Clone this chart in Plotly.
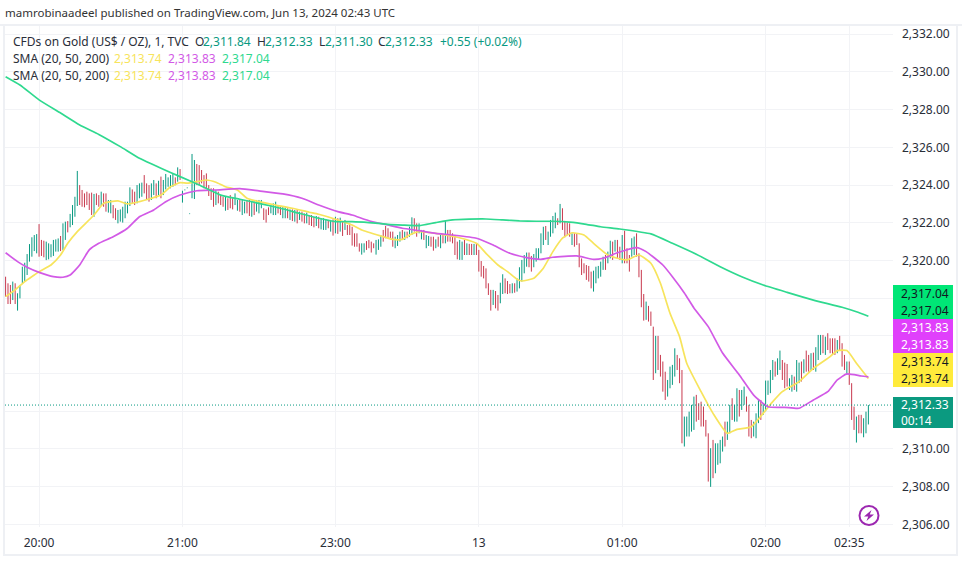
import plotly.graph_objects as go

highs = [
2319.14,2318.79,2318.7,2318.88,2318.79,2318.26,2318.7,2319.67,2319.88,2320.34,
2320.87,2321.23,2321.35,2321.4,2321.93,2321.09,2321.05,2321.0,2320.91,2320.86,
2321.09,2321.12,2321.17,2321.3,2321.97,2322.06,2322.09,2322.47,2322.94,2323.38,
2324.75,2324.0,2323.74,2323.56,2323.65,2323.56,2323.6,2323.53,2323.56,2323.47,
2323.65,2323.56,2323.56,2323.21,2323.21,2322.94,2322.77,2322.68,2322.71,2322.85,
2323.12,2323.12,2323.88,2323.77,2323.65,2324.0,2324.09,2324.13,2324.53,2324.09,
2324.0,2324.09,2324.27,2324.09,2324.23,2324.45,2324.27,2324.59,2324.41,2324.53,
2324.62,2324.41,2324.94,2324.85,2323.7,2323.77,2323.88,2322.5,2325.65,2325.33,
2325.12,2325.06,2324.8,2324.53,2324.62,2324.0,2323.83,2323.83,2323.73,2323.65,
2323.47,2323.38,2323.38,2323.3,2323.47,2323.3,2323.56,2323.21,2323.21,2323.21,
2323.12,2323.21,2323.21,2323.12,2323.12,2323.21,2323.21,2323.21,2322.77,2322.71,
2322.82,2322.94,2323.03,2323.12,2322.94,2322.85,2322.85,2322.82,2322.77,2322.71,
2322.71,2322.68,2322.71,2322.59,2322.59,2322.5,2322.54,2322.41,2322.41,2322.32,
2322.36,2322.32,2322.24,2322.24,2322.18,2322.15,2322.15,2322.18,2322.32,2322.24,
2322.27,2322.06,2322.15,2321.88,2321.97,2321.79,2321.44,2321.44,2320.91,2320.91,
2320.91,2321.03,2321.09,2321.0,2320.91,2321.09,2321.12,2321.35,2321.62,2321.83,
2321.71,2321.53,2321.53,2321.26,2321.35,2321.53,2321.62,2321.53,2321.53,2321.79,
2322.29,2322.24,2321.97,2321.97,2321.62,2321.62,2321.35,2321.3,2321.26,2321.26,
2321.12,2321.26,2321.35,2321.35,2322.1,2321.62,2321.62,2321.44,2321.35,2321.0,
2321.09,2321.0,2321.09,2320.91,2320.88,2320.88,2320.88,2320.88,2320.56,2319.97,
2319.71,2319.58,2318.79,2318.44,2318.44,2318.38,2318.17,2318.82,2319.27,2319.05,
2318.91,2318.75,2318.79,2318.79,2319.05,2319.64,2320.03,2320.29,2320.42,2320.42,
2320.24,2320.34,2320.65,2320.65,2321.44,2321.79,2321.83,2321.53,2322.15,2322.36,
2322.54,2322.24,2323.0,2322.77,2322.1,2322.01,2321.97,2321.44,2321.44,2321.44,
2320.91,2320.11,2319.85,2319.76,2319.71,2319.41,2319.46,2319.67,2319.71,2319.94,
2320.2,2320.29,2320.47,2321.05,2321.0,2321.09,2321.09,2320.73,2321.35,2321.58,
2320.65,2320.29,2321.18,2321.27,2321.44,2320.38,2319.5,2318.22,2317.82,2317.59,
2317.29,2316.49,2316.0,2316.0,2314.99,2314.64,2314.1,2313.66,2314.37,2314.46,
2315.34,2314.99,2314.81,2314.19,2311.72,2311.72,2311.98,2312.34,2312.78,2312.87,
2312.43,2312.51,2312.25,2311.54,2310.83,2310.04,2310.48,2310.3,2310.3,2310.48,
2310.66,2311.45,2311.45,2312.34,2312.69,2312.34,2313.22,2313.13,2313.13,2313.31,
2312.78,2312.34,2311.54,2311.45,2311.89,2312.6,2312.6,2312.43,2313.63,2313.63,
2314.19,2314.72,2314.64,2314.81,2315.22,2314.72,2314.58,2314.51,2313.75,2313.93,
2313.84,2314.72,2314.58,2314.64,2314.76,2315.22,2314.99,2315.08,2315.11,2315.4,
2316.05,2316.05,2316.05,2315.96,2316.14,2315.87,2315.87,2315.87,2315.78,2316.0,
2315.61,2314.99,2314.64,2314.64,2313.49,2312.25,2311.72,2311.81,2311.81,2311.63,2311.98,2312.33,
]
lows = [
2318.08,2317.69,2317.69,2317.9,2317.69,2317.34,2317.99,2318.79,2318.88,2319.23,
2319.94,2320.2,2320.5,2320.38,2320.2,2320.24,2320.17,2320.02,2320.06,2320.17,
2320.24,2320.47,2320.47,2320.5,2320.56,2321.09,2321.49,2321.76,2321.88,2322.32,
2322.89,2322.94,2322.85,2322.82,2322.94,2322.68,2322.41,2322.32,2322.94,2322.85,
2322.89,2322.85,2322.59,2322.54,2322.5,2322.24,2322.15,2321.97,2322.06,2322.01,
2322.24,2322.5,2322.89,2323.03,2322.94,2323.03,2323.3,2323.38,2323.56,2323.21,
2323.12,2323.21,2323.47,2323.3,2323.47,2323.3,2323.47,2323.77,2323.91,2323.83,
2323.91,2323.99,2324.18,2324.27,2323.07,2323.72,2323.83,2322.46,2323.3,2323.26,
2324.0,2324.0,2324.09,2323.83,2323.83,2323.42,2323.21,2322.85,2322.94,2323.03,
2322.94,2322.85,2322.64,2322.68,2322.77,2322.71,2322.94,2322.64,2322.59,2322.41,
2322.5,2322.5,2322.36,2322.32,2322.41,2322.59,2322.5,2322.77,2322.15,2322.01,
2322.41,2322.5,2322.41,2322.41,2322.5,2322.41,2322.24,2322.24,2322.24,2322.15,
2322.09,2322.06,2321.97,2322.15,2322.06,2321.97,2321.97,2321.88,2321.83,2321.76,
2321.83,2321.71,2321.65,2321.62,2321.62,2321.71,2321.53,2321.32,2321.44,2321.41,
2321.53,2321.3,2321.62,2321.35,2321.35,2320.79,2320.73,2320.73,2320.47,2320.31,
2320.42,2320.56,2320.65,2320.42,2320.65,2320.31,2320.56,2320.73,2321.0,2321.18,
2321.18,2321.12,2320.73,2320.65,2320.77,2321.0,2321.09,2321.09,2321.18,2321.26,
2321.35,2321.53,2321.26,2321.44,2321.12,2321.09,2320.65,2320.77,2320.73,2320.52,
2320.65,2320.73,2320.65,2320.91,2320.91,2321.0,2321.0,2320.91,2320.29,2320.06,
2320.03,2320.03,2320.29,2320.29,2320.29,2320.29,2320.29,2320.29,2319.41,2319.14,
2319.05,2318.52,2318.17,2317.34,2317.64,2317.46,2317.34,2317.73,2318.22,2318.26,
2318.22,2318.26,2318.26,2318.29,2318.35,2318.52,2318.88,2319.32,2319.67,2319.64,
2319.41,2319.64,2319.94,2320.03,2320.38,2320.82,2321.09,2320.82,2321.26,2321.44,
2321.71,2321.88,2321.97,2321.62,2321.23,2321.35,2321.26,2320.82,2320.73,2320.82,
2319.64,2319.23,2319.32,2318.97,2318.88,2318.52,2318.35,2318.79,2319.05,2319.14,
2319.5,2319.5,2319.85,2320.11,2320.03,2320.47,2320.11,2320.03,2319.85,2319.85,
2319.85,2319.41,2320.2,2320.29,2320.2,2319.11,2317.52,2316.81,2316.85,2316.76,
2316.53,2313.66,2314.02,2314.19,2313.84,2313.04,2312.6,2312.78,2313.22,2313.4,
2313.84,2314.19,2313.49,2310.3,2310.13,2310.66,2310.66,2310.92,2311.01,2311.45,
2311.54,2311.19,2311.19,2310.66,2308.27,2307.99,2308.45,2308.71,2309.16,2309.24,
2309.86,2310.13,2310.48,2310.83,2311.54,2311.45,2311.45,2311.72,2312.07,2312.34,
2311.98,2310.66,2310.57,2310.66,2310.57,2311.37,2311.54,2311.81,2312.0,2312.87,
2312.96,2313.66,2313.84,2313.93,2314.19,2313.66,2313.22,2313.31,2313.13,2313.04,
2313.13,2313.04,2313.49,2313.58,2314.02,2314.1,2314.1,2314.19,2314.19,2314.1,
2314.72,2314.99,2315.08,2314.99,2315.25,2315.08,2314.99,2314.99,2315.08,2315.25,
2314.37,2314.19,2313.93,2313.4,2311.54,2311.01,2310.34,2310.83,2310.83,2310.62,2310.83,2311.3,
]
bar_directions = (
"rrrgrggggg" "ggggrrrggg" "gggrggrggg" "grrrrrrgrr" "grrggrrggg" "gggrrgggrr" "rggrgrgggg"
"grgrgggggg" "rrrrrrrrgr" "rrgrrrggrg" "grrgrgggrr" "rgggrrggrg" "rgrgrrgrrr" "grgggrgrgr"
"grgrrrrrrg" "grrrrgggrr" "rrrgggrgrg" "grrggrggrr" "grgrgrrrrr" "ggrgrrgrrr" "rrrrgrrggr"
"rrgrgggggr" "rgggggrggg" "grgrrrrgrr" "rrrrrrgggg" "grggrgrrgr" "rrggrrrrgr" "rrgrrrrggg"
"grrrgggggr" "rrrrrgrggg" "grggrggrgg" "rrrgggrggg" "ggrggrrrgg" "rggrgrrgrg" "ggrgrrrrgr"
"rrgrrrgrrggg"
)

sma200_bars = [0,6,14,23,31,39,48,56,65,73,81,90,98,106,115,123,131,138,145,152,160,166,173,180,187,194,201,208,215,222,229,236,243,249,257,270,279,289,299,308,317,327,338,350,356,361]
sma200_values = [2329.75,2329.31,2328.52,2327.82,2327.19,2326.69,2326.04,2325.42,2324.89,2324.45,2324.0,2323.47,2323.25,2323.03,2322.77,2322.5,2322.24,2322.06,2322.06,2322.01,2321.92,2321.88,2321.85,2322.01,2322.15,2322.19,2322.2,2322.15,2322.1,2322.08,2322.08,2322.03,2321.92,2321.79,2321.67,2321.41,2320.91,2320.33,2319.67,2319.14,2318.7,2318.31,2317.9,2317.52,2317.28,2317.04]

sma50_bars = [0,5,9,14,20,24,27,31,35,39,45,51,56,62,67,73,80,88,98,106,116,124,131,139,145,152,160,166,173,180,187,197,204,211,218,224,229,239,246,250,256,264,268,275,279,284,288,294,300,307,313,319,326,332,338,344,348,352,358,361]
sma50_values = [2320.41,2319.94,2319.64,2319.37,2319.14,2319.11,2319.23,2319.76,2320.56,2320.91,2321.26,2321.71,2322.32,2322.68,2323.12,2323.47,2323.7,2323.74,2323.81,2323.69,2323.53,2323.3,2322.94,2322.59,2322.41,2322.11,2321.88,2321.71,2321.58,2321.44,2321.35,2321.18,2320.82,2320.38,2320.15,2320.06,2320.17,2320.24,2320.06,2320.12,2320.41,2320.68,2320.47,2319.76,2319.14,2318.28,2317.48,2316.49,2315.09,2313.93,2312.86,2312.24,2312.21,2312.16,2312.6,2313.04,2313.66,2313.98,2313.87,2313.83]

sma20_bars = [0,4,8,12,14,19,23,26,30,37,41,44,47,51,56,60,65,69,73,76,80,84,88,92,97,101,106,113,120,127,131,139,145,149,157,162,166,169,173,180,189,197,201,206,210,214,216,221,225,229,233,237,242,246,252,256,260,265,270,274,278,282,285,291,296,302,306,312,317,321,325,332,338,345,348,352,356,361]
sma20_values = [2318.08,2318.44,2318.88,2319.23,2319.41,2319.76,2320.29,2320.91,2321.53,2322.41,2323.03,2323.12,2323.16,2323.0,2323.12,2323.26,2323.47,2323.91,2324.13,2324.1,2324.18,2324.27,2324.15,2323.91,2323.74,2323.3,2323.12,2322.94,2322.77,2322.56,2322.45,2322.15,2321.88,2321.62,2321.3,2321.12,2321.12,2321.35,2321.53,2321.44,2321.23,2320.91,2320.38,2319.76,2319.41,2319.0,2318.91,2319.06,2319.59,2320.47,2321.18,2321.47,2321.35,2320.91,2320.29,2320.12,2320.03,2320.29,2319.85,2318.79,2317.2,2315.96,2314.55,2313.04,2311.89,2310.83,2311.04,2311.18,2311.89,2312.51,2313.04,2313.57,2314.28,2314.9,2315.22,2315.22,2314.55,2313.74]

tick_bars = [14, 74, 138, 198, 258, 318, 353]
tick_labels = ["20:00", "21:00", "23:00", "13", "01:00", "02:00", "02:35"]
price_ticks = [2306, 2308, 2310, 2312, 2314, 2316, 2318, 2320, 2322, 2324, 2326, 2328, 2330, 2332]
price_tick_labels = ["2,306.00", "2,308.00", "2,310.00", "", "", "", "", "2,320.00", "2,322.00", "2,324.00", "2,326.00", "2,328.00", "2,330.00", "2,332.00"]
last_close = 2312.33

W, H = 962, 563
L, R, T, B = 5, 893, 26, 527
FONT = "Noto Sans"
UP, DOWN = "#089981", "#c8394e"
YEL, MAG, GRN = "#f7e45c", "#d25ae6", "#2fd98f"
TEXT = "#2a2e39"

def px(x):
    return (x - L) / (R - L)
def py(y):
    return 1 - (y - T) / (B - T)

bars = list(range(len(highs)))
is_up = [d == "g" for d in bar_directions]
opens = [lo if u else hi for hi, lo, u in zip(highs, lows, is_up)]
closes = [hi if u else lo for hi, lo, u in zip(highs, lows, is_up)]

fig = go.Figure()
fig.add_trace(go.Ohlc(
    x=bars, open=opens, high=highs, low=lows, close=closes, tickwidth=0,
    increasing=dict(line=dict(color=UP, width=1.0)),
    decreasing=dict(line=dict(color=DOWN, width=1.0)),
    showlegend=False,
))
for xs, ys, col in [(sma20_bars, sma20_values, YEL), (sma50_bars, sma50_values, MAG), (sma200_bars, sma200_values, GRN)]:
    fig.add_trace(go.Scatter(x=xs, y=ys, mode="lines", showlegend=False,
                             line=dict(color=col, width=1.7, shape="spline", smoothing=0.5)))

shapes = []
def rect(x0, y0, x1, y1, fill, line=None):
    shapes.append(dict(type="rect", xref="paper", yref="paper", layer="above",
                       x0=px(x0), x1=px(x1), y0=py(y0), y1=py(y1), fillcolor=fill,
                       line=dict(width=0) if line is None else dict(color=line, width=2)))

# frame of the chart panel
FR = "#eef0f4"
rect(0, 24, 962, 26, FR)
rect(3, 24, 5, 556, FR)
rect(956, 24, 958, 556, FR)
rect(3, 554, 958, 556, FR)

# price tags
rect(893, 285, 953, 319, "#00e676")
rect(893, 319, 953, 353, "#e040fb")
rect(893, 353, 953, 387, "#ffeb3b")
rect(893, 397, 953, 428, "#0b9a80")

# last-price dotted line
shapes.append(dict(type="line", xref="paper", yref="y", x0=0, x1=1, y0=last_close, y1=last_close,
                   line=dict(color=UP, width=1, dash="1px,2px"), layer="above"))

# bolt badge
shapes.append(dict(type="circle", xref="paper", yref="paper", layer="above",
                   x0=px(859.5), x1=px(878.5), y0=py(506), y1=py(525),
                   line=dict(color="#9c27b0", width=2), fillcolor="rgba(255,255,255,0)"))
bolt = [(871.5, 510), (864, 516.5), (868.2, 516.5), (866.5, 521), (874, 514.5), (869.8, 514.5)]
shapes.append(dict(type="path", xref="paper", yref="paper", layer="above", fillcolor="#9c27b0",
                   line=dict(width=0),
                   path="M" + " L".join(f"{px(a):.5f},{py(b):.5f}" for a, b in bolt) + " Z"))

ann = []
def text(x, y, s, col=TEXT, size=12, anchor="left"):
    ann.append(dict(xref="paper", yref="paper", x=px(x), y=py(y), text=s, showarrow=False,
                    xanchor=anchor, yanchor="middle", align="left", borderpad=0, borderwidth=0,
                    font=dict(family=FONT, size=size, color=col)))

text(5, 13, "mamrobinaadeel published on TradingView.com, Jun 13, 2024 02:43 UTC", "#333333", size=11.5)
text(13, 41, "CFDs on Gold (US$ / OZ), 1, TVC")
text(195, 41, "O")
text(203, 41, "2,311.84", UP)
text(257, 41, "H")
text(265, 41, "2,312.33", UP)
text(319, 41, "L")
text(325, 41, "2,311.30", UP)
text(378, 41, "C")
text(385, 41, "2,312.33", UP)
text(440, 41, "+0.55 (+0.02%)", UP)
for row in (58, 75):
    text(13, row, "SMA (20, 50, 200)")
    text(114, row, "2,313.74", YEL)
    text(168, row, "2,313.83", MAG)
    text(222, row, "2,317.04", GRN)
for y, s, c in [(293, "2,317.04", "#131722"), (310, "2,317.04", "#131722"),
                (327, "2,313.83", "#ffffff"), (344, "2,313.83", "#ffffff"),
                (361, "2,313.74", "#131722"), (378, "2,313.74", "#131722")]:
    text(901, y, s, c)
text(901, 412, "2,312.33<br>00:14", "#ffffff")

fig.update_layout(
    width=W, height=H, autosize=False, paper_bgcolor="white", plot_bgcolor="white",
    margin=dict(l=L, r=W - R, t=T, b=H - B, pad=0),
    font=dict(family=FONT, size=12, color=TEXT),
    shapes=shapes, annotations=ann, hovermode=False,
    xaxis=dict(range=[-0.25, 371.3], tickmode="array", tickvals=tick_bars, ticktext=tick_labels,
               showgrid=True, gridcolor="#f2f3f6", gridwidth=1, zeroline=False, showline=False,
               ticks="", rangeslider=dict(visible=False), automargin=False, ticklabelstandoff=7,
               tickangle=0, tickfont=dict(family=FONT, size=12, color=TEXT)),
    yaxis=dict(range=[2305.86, 2332.44], side="right", tickmode="array", tickvals=price_ticks,
               ticktext=price_tick_labels, showgrid=True, gridcolor="#f2f3f6", gridwidth=1,
               zeroline=False, showline=False, ticks="", automargin=False, ticklabelstandoff=8,
               tickfont=dict(family=FONT, size=12, color=TEXT)),
)
fig.write_html("out.html", config=dict(displayModeBar=False),
               post_script="document.body.style.margin='0';document.body.style.overflow='hidden';")
